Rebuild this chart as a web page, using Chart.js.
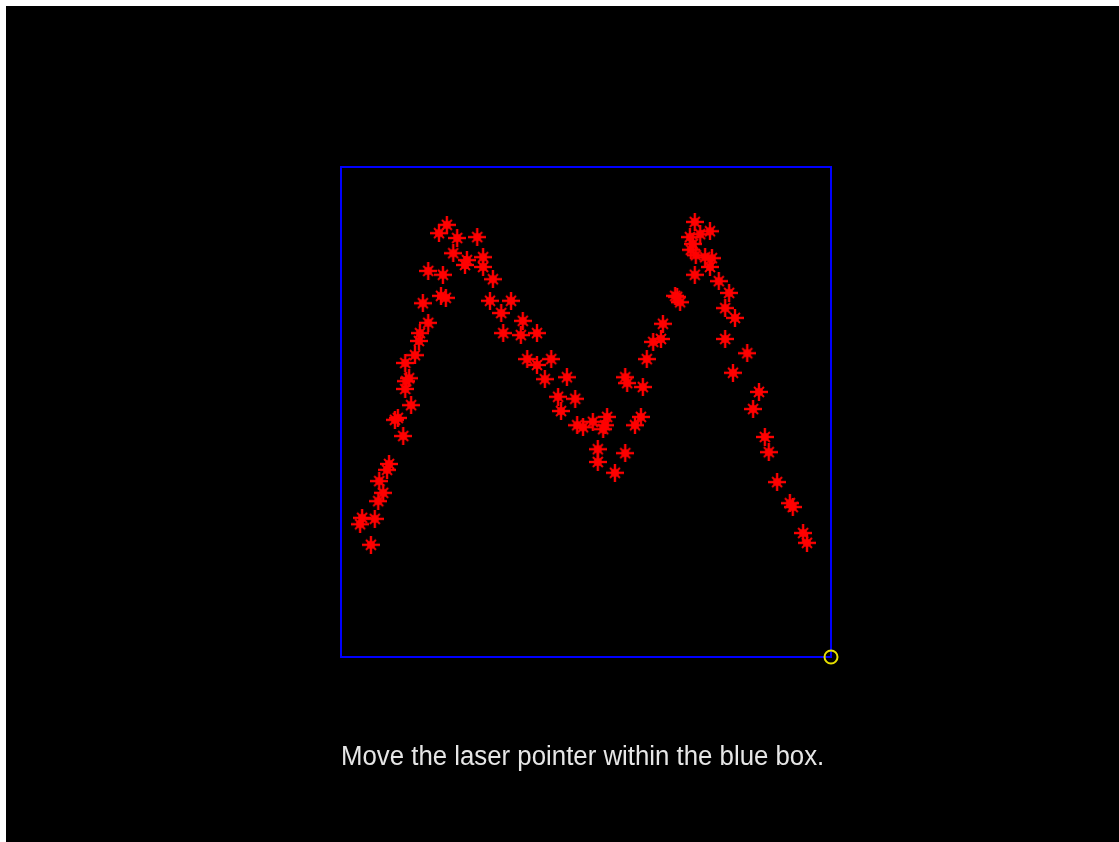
<!DOCTYPE html>
<html>
<head>
<meta charset="utf-8">
<script src="https://cdn.jsdelivr.net/npm/chart.js@4.4.1/dist/chart.umd.min.js"></script>
<style>
  html, body { margin: 0; padding: 0; background: #ffffff; width: 1119px; height: 842px; overflow: hidden; }
  #stage { position: absolute; left: 6px; top: 6px; width: 1113px; height: 836px; background: #000000; }
  #chart { position: absolute; left: 0; top: 0; }
  #caption { position: absolute; left: 335px; top: 733px; color: #e6e6e6;
    font-family: "Liberation Sans", Arial, sans-serif; font-size: 25.8px; line-height: 30px; white-space: nowrap;
    transform: scaleY(1.1); transform-origin: 0 0; }
</style>
</head>
<body>
<div id="stage">
  <canvas id="chart" width="1113" height="836"></canvas>
  <div id="caption">Move the laser pointer within the blue box.</div>
</div>
<script>
// Recorded laser-pointer positions (box coordinates 0..100, y upward)
const markerX = [
  6.1, 4.3, 3.9, 6.9, 7.6, 8.6, 7.8, 9.4, 9.8, 11.0, 11.6, 12.7, 14.3, 13.1, 13.3, 13.9, 13.1, 15.1, 15.9, 16.1,
  17.8, 16.7, 17.8, 20.4, 21.4, 20.8,
  21.6, 20.0, 23.7, 27.8, 22.9, 25.7, 25.3, 29.0, 29.0, 31.0,
  30.4, 34.7, 32.7, 37.1, 33.1, 36.7, 40.0, 38.0, 40.0, 42.9, 41.6, 46.1, 44.3, 47.8, 44.9, 48.2, 49.4, 51.4,
  54.3, 53.9, 53.5, 52.4, 52.4, 55.9, 58.0, 60.0, 61.2, 58.0, 58.4, 61.6, 62.4, 63.7, 65.3, 65.7, 68.2, 68.6, 69.2,
  72.2, 71.2, 73.3, 75.3, 71.8, 71.4, 72.4, 74.3, 75.7, 75.3, 72.2, 77.1,
  79.2, 78.4, 80.4, 78.4, 82.9, 80.0, 85.3, 84.1, 86.5, 87.3, 89.0, 91.6, 92.2, 94.3, 95.1
];
const markerY = [
  22.9, 28.4, 27.1, 28.2, 31.8, 33.5, 35.9, 38.2, 39.4, 48.4, 48.8, 45.1, 51.4, 54.7, 56.3, 56.9, 60.0, 61.6, 64.5, 66.1,
  68.2, 72.2, 78.8, 73.7, 73.3, 78.0,
  88.2, 86.5, 85.5, 85.7, 82.4, 81.0, 80.0, 81.6, 79.6, 77.1,
  72.7, 72.7, 70.2, 68.6, 66.1, 65.7, 66.1, 60.8, 59.6, 60.8, 56.7, 57.1, 53.1, 52.7, 50.2, 47.3, 46.9, 48.0,
  49.0, 47.3, 46.5, 42.4, 39.8, 37.6, 41.6, 47.3, 49.0, 57.1, 55.9, 55.1, 60.8, 64.3, 64.9, 68.0, 73.7, 73.5, 72.4,
  88.8, 85.7, 86.3, 86.9, 84.3, 83.1, 82.0, 81.6, 81.4, 79.6, 78.0, 76.7,
  74.3, 71.2, 69.2, 64.9, 62.0, 58.0, 54.1, 50.6, 44.9, 41.8, 35.7, 31.4, 30.6, 25.3, 23.3
];
// Current pointer position
const pointerX = [100];
const pointerY = [0];
// Box limits
const axisMin = 0;
const axisMax = 100;

function makeStar() {
  const c = document.createElement('canvas');
  c.width = 18; c.height = 18;
  const g = c.getContext('2d');
  g.fillStyle = '#ff0000';
  g.strokeStyle = '#ff0000';
  g.fillRect(0, 7.8, 18, 2.4);
  g.fillRect(7.8, 0, 2.4, 18);
  g.beginPath(); g.arc(9, 9, 4, 0, Math.PI * 2); g.fill();
  g.lineWidth = 2;
  const d = [[1,1],[1,-1],[-1,1],[-1,-1]];
  d.forEach(([sx, sy]) => {
    g.beginPath();
    g.moveTo(9 + sx * 2.5, 9 + sy * 2.5);
    g.lineTo(9 + sx * 5, 9 + sy * 5);
    g.stroke();
  });
  return c;
}

const boxPlugin = {
  id: 'box',
  beforeDatasetsDraw(chart) {
    const a = chart.chartArea, ctx = chart.ctx;
    ctx.save();
    ctx.strokeStyle = '#0000ff';
    ctx.lineWidth = 2;
    ctx.strokeRect(a.left, a.top, a.right - a.left, a.bottom - a.top);
    ctx.restore();
  }
};

const star = makeStar();
new Chart(document.getElementById('chart'), {
  type: 'scatter',
  data: {
    datasets: [
      {
        data: markerX.map((x, i) => ({ x: x, y: markerY[i] })),
        pointStyle: star,
        pointRadius: 9,
        clip: false
      },
      {
        data: pointerX.map((x, i) => ({ x: x, y: pointerY[i] })),
        pointStyle: 'circle',
        pointRadius: 6.5,
        borderColor: '#e8e000',
        backgroundColor: 'rgba(0,0,0,0)',
        borderWidth: 2,
        clip: false
      }
    ]
  },
  options: {
    responsive: false,
    animation: false,
    events: [],
    layout: { padding: { left: 335, top: 161, right: 288, bottom: 185 } },
    plugins: { legend: { display: false }, tooltip: { enabled: false }, title: { display: false } },
    scales: {
      x: { type: 'linear', min: axisMin, max: axisMax, display: false },
      y: { type: 'linear', min: axisMin, max: axisMax, display: false }
    }
  },
  plugins: [boxPlugin]
});
</script>
</body>
</html>
